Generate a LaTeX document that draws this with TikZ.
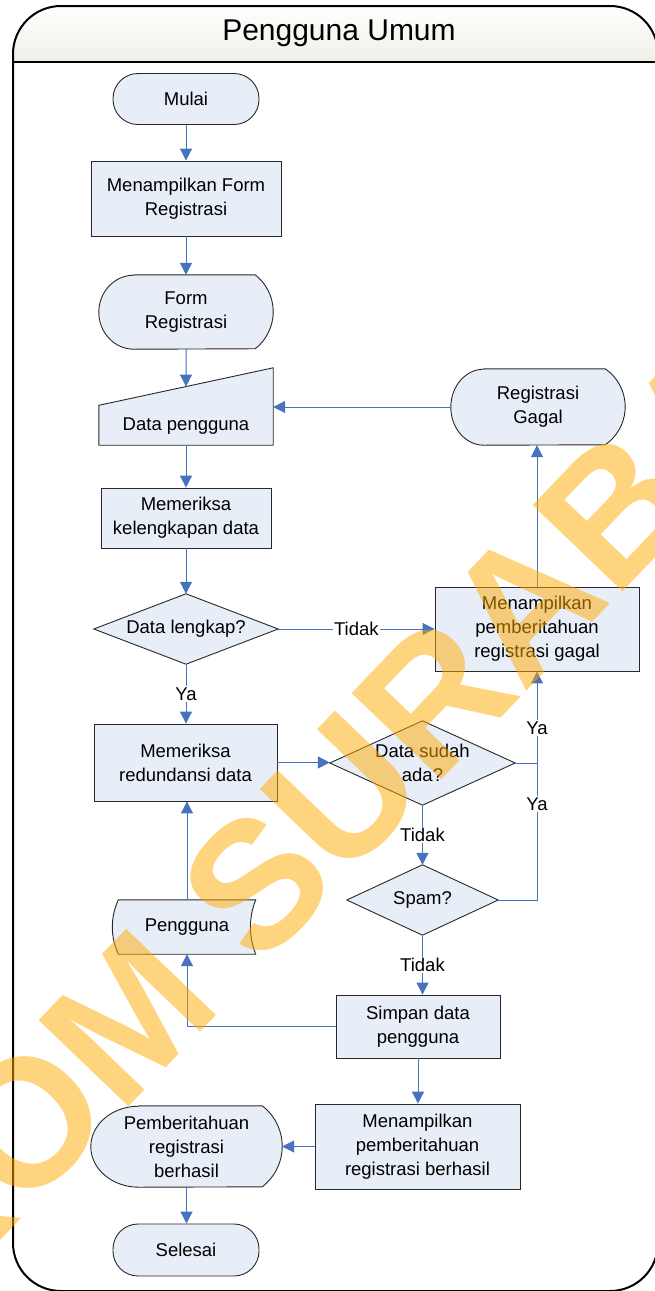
\documentclass[tikz,border=0pt]{standalone}
\usepackage{fontspec}
\setmainfont{Liberation Sans}
\usetikzlibrary{arrows.meta,calc,shadings}
\pgfdeclarelayer{back}
\pgfsetlayers{back,main}
\definecolor{boxfill}{RGB}{232,238,247}
\definecolor{flow}{RGB}{70,114,190}
\definecolor{edge}{RGB}{40,40,40}
\definecolor{hdr}{RGB}{238,240,230}
\definecolor{stampcol}{RGB}{255,170,0}

\tikzset{
  txt/.style={font=\fontsize{18.5}{24}\selectfont, align=center, inner sep=0pt},
  proc/.style={txt, draw=edge, line width=0.9pt, fill=boxfill},
  term/.style={proc, rounded corners=25pt},
  shapeline/.style={draw=edge, line width=0.9pt, fill=boxfill},
  flowline/.style={draw=flow, line width=1pt},
  arr/.style={flowline, -{Triangle[length=12pt,width=12pt]}},
  tag/.style={txt, fill=white, inner sep=1.5pt},
}

\begin{document}
\begin{tikzpicture}[x=1pt,y=1pt]
\useasboundingbox (0,0) rectangle (655,-1291);
\clip (0,0) rectangle (655,-1291);

% swimlane frame with shaded header
\begin{pgfonlayer}{back}
  \begin{scope}
    \clip[rounded corners=48pt] (13,-6) rectangle (658,-1291);
    \fill[top color=white, bottom color=hdr] (13,-6) rectangle (658,-62);
  \end{scope}
  \draw[line width=2pt, rounded corners=48pt] (13,-6) rectangle (658,-1291);
  \draw[line width=2pt] (13,-62) -- (658,-62);
\end{pgfonlayer}
\node[font=\fontsize{30}{36}\selectfont, inner sep=0pt] (title) at (339,-33) {Pengguna Umum};

% flowchart steps
\node[term, minimum width=146pt, minimum height=51pt] (mulai) at (186,-99) {Mulai};
\node[proc, minimum width=190pt, minimum height=75pt] (tampilform) at (186,-198.5) {Menampilkan Form\\Registrasi};
\node[txt, minimum width=174pt, minimum height=74pt] (formreg) at (186,-312) {Form\\Registrasi};
\node[txt, minimum width=174pt, minimum height=38pt] (datain) at (186,-426) {Data pengguna};
\node[txt, minimum width=174pt, minimum height=76pt] (gagal) at (538,-407) {Registrasi\\Gagal};
\node[proc, minimum width=170pt, minimum height=60pt] (cek1) at (186,-518) {Memeriksa\\kelengkapan data};
\node[txt, minimum width=184pt, minimum height=70pt] (lengkap) at (186,-629) {Data lengkap?};
\node[proc, minimum width=204pt, minimum height=84pt] (infogagal) at (537,-629) {Menampilkan\\pemberitahuan\\registrasi gagal};
\node[proc, minimum width=183pt, minimum height=77pt] (cek2) at (185.5,-762.5) {Memeriksa\\redundansi data};
\node[txt, minimum width=185pt, minimum height=84pt] (sudah) at (422.5,-763) {Data sudah\\ada?};
\node[txt, minimum width=151pt, minimum height=70pt] (spam) at (422.5,-900) {Spam?};
\node[txt, minimum width=137pt, minimum height=54pt] (pengguna) at (187,-927) {Pengguna};
\node[proc, minimum width=164pt, minimum height=63pt] (simpan) at (418,-1026.5) {Simpan data\\pengguna};
\node[proc, minimum width=205pt, minimum height=85pt] (infoberhasil) at (417.5,-1146.5) {Menampilkan\\pemberitahuan\\registrasi berhasil};
\node[txt, minimum width=191pt, minimum height=81pt] (berhasil) at (186.5,-1146.5) {Pemberitahuan\\registrasi\\berhasil};
\node[term, minimum width=146pt, minimum height=52pt] (selesai) at (186,-1250) {Selesai};

% outlines of the special symbols
\begin{pgfonlayer}{back}
  % display symbols: elliptic left side, circular right side
  \draw[shapeline] ([xshift=35pt]formreg.north west) -- ([xshift=-18pt]formreg.north east)
    arc[start angle=51.9, end angle=-51.9, radius=47pt]
    -- ([xshift=35pt]formreg.south west)
    arc[start angle=270, end angle=90, x radius=35pt, y radius=37pt] -- cycle;
  \draw[shapeline] ([xshift=33pt]gagal.north west) -- ([xshift=-20pt]gagal.north east)
    arc[start angle=55.5, end angle=-55.5, radius=46.1pt]
    -- ([xshift=33pt]gagal.south west)
    arc[start angle=270, end angle=90, x radius=33pt, y radius=38pt] -- cycle;
  \draw[shapeline] ([xshift=48pt]berhasil.north west) -- ([xshift=-20pt]berhasil.north east)
    arc[start angle=52.6, end angle=-52.6, radius=51pt]
    -- ([xshift=48pt]berhasil.south west)
    arc[start angle=270, end angle=90, x radius=48pt, y radius=40.5pt] -- cycle;
  % manual input
  \draw[shapeline] (datain.south west) -- (datain.south east)
    -- ([yshift=39pt]datain.north east) -- ([yshift=1.5pt]datain.north west) -- cycle;
  % decisions
  \draw[shapeline] (lengkap.north) -- (lengkap.east) -- (lengkap.south) -- (lengkap.west) -- cycle;
  \draw[shapeline] (sudah.north) -- (sudah.east) -- (sudah.south) -- (sudah.west) -- cycle;
  \draw[shapeline] (spam.north) -- (spam.east) -- (spam.south) -- (spam.west) -- cycle;
  % stored data
  \draw[shapeline] (pengguna.north west) -- (pengguna.north east)
    .. controls +(-7pt,-18pt) and +(-7pt,18pt) .. (pengguna.south east)
    -- (pengguna.south west)
    .. controls +(-8pt,18pt) and +(-8pt,-18pt) .. (pengguna.north west) -- cycle;
\end{pgfonlayer}

% connectors
\coordinate (datain-top) at ($([yshift=39pt]datain.north east)!0.5!([yshift=1.5pt]datain.north west)$);
\coordinate (join) at (infogagal.south |- sudah.east);
\draw[arr] (mulai.south) -- (tampilform.north);
\draw[arr] (tampilform.south) -- (formreg.north);
\draw[arr] (formreg.south) -- (datain-top);
\draw[arr] (gagal.west) -- (gagal.west -| datain.east);
\draw[arr] (datain.south) -- (cek1.north);
\draw[arr] (cek1.south) -- (lengkap.north);
\draw[arr] (lengkap.east) -- node[tag] (tidak1) {Tidak} (infogagal.west);
\draw[arr] (lengkap.south) -- node[tag] (ya1) {Ya} (lengkap.south |- cek2.north);
\draw[arr] (infogagal.north) -- (infogagal.north |- gagal.south);
\draw[arr] (cek2.east) -- (cek2.east -| sudah.west);
\draw[flowline] (sudah.east) -- (join);
\draw[arr] (join) -- node[tag, pos=0.38] (ya2) {Ya} (infogagal.south);
\draw[flowline] (spam.east) -| node[tag, pos=0.85] (ya3) {Ya} (join);
\draw[arr] (sudah.south) -- node[tag] (tidak2) {Tidak} (spam.north);
\draw[arr] (spam.south) -- node[tag] (tidak3) {Tidak} (spam.south |- simpan.north);
\draw[arr] (simpan.west) -| (pengguna.south);
\draw[arr] (pengguna.north) -- (pengguna.north |- cek2.south);
\draw[arr] (simpan.south) -- (simpan.south |- infoberhasil.north);
\draw[arr] (infoberhasil.west) -- (infoberhasil.west -| berhasil.east);
\draw[arr] (berhasil.south) -- (berhasil.south |- selesai.north);

% watermark stamp
\node[rotate=46.2, inner sep=0pt, text=stampcol, text opacity=0.5,
      font=\bfseries\fontsize{181}{181}\selectfont] (stamp) at (297,-841) {STIKOM SURABAYA};
\end{tikzpicture}
\end{document}
